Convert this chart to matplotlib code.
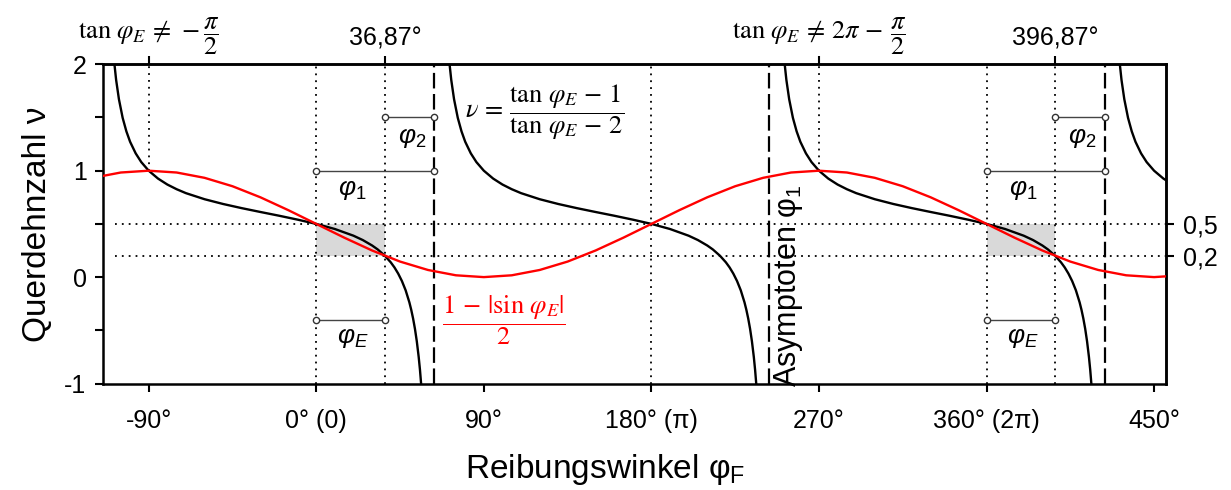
import numpy as np
import matplotlib.pyplot as plt
from matplotlib.patches import Rectangle

plt.rcParams['font.family'] = ['Liberation Sans', 'DejaVu Sans']
plt.rcParams['mathtext.fontset'] = 'custom'
plt.rcParams['mathtext.rm'] = 'Liberation Sans'
plt.rcParams['mathtext.it'] = 'Liberation Sans:italic'
plt.rcParams['mathtext.sf'] = 'Liberation Sans'
plt.rcParams['axes.unicode_minus'] = False

# schwarze Kurve nu = (tan phi - 1)/(tan phi - 2), ein Ast, wiederholt sich alle 180 Grad
ast_phi = [-108.4, -107.5, -106, -104, -102, -100, -97, -94, -90, -85, -80, -75, -70,
           -60, -50, -40, -30, -20, -10, 0, 10, 20, 25, 30, 33, 36.87, 40, 42, 44, 46,
           48, 50, 51, 52, 53, 54, 55, 55.7, 56.3]
ast_nu = [2.0, 1.853, 1.672, 1.497, 1.370, 1.272, 1.163, 1.081, 1.0, 0.926, 0.870, 0.826,
          0.789, 0.732, 0.687, 0.648, 0.612, 0.577, 0.540, 0.5, 0.452, 0.389, 0.348,
          0.297, 0.260, 0.2, 0.139, 0.091, 0.033, -0.037, -0.124, -0.237, -0.307, -0.389,
          -0.486, -0.604, -0.749, -0.872, -1.0]
ast_versatz = [0, 180, 360, 540]

# rote Kurve
rot_phi = list(range(-120, 466, 15))
rot_nu = [0.933, 0.983, 1.0, 0.983, 0.933, 0.854, 0.75, 0.629, 0.5, 0.371, 0.25, 0.146,
          0.067, 0.017, 0.0, 0.017, 0.067, 0.146, 0.25, 0.371, 0.5, 0.629, 0.75, 0.854,
          0.933, 0.983, 1.0, 0.983, 0.933, 0.854, 0.75, 0.629, 0.5, 0.371, 0.25, 0.146,
          0.067, 0.017, 0.0, 0.017]

asymptoten = [63.43, 243.43, 423.43]
phi_E = 36.87
xticks = [-90, 0, 90, 180, 270, 360, 450]
xlabels = ['-90°', '0° (0)', '90°', '180° (π)', '270°', '360° (2π)', '450°']

fs = 18
fm = 19     # Formeln
fl = 24     # Achsentitel
fig = plt.figure(figsize=(12.31, 4.9), dpi=100)
ax = fig.add_axes([0.0839, 0.2173, 0.8633, 0.6515])
ax.set_xlim(-114.4, 456.4)
ax.set_ylim(-1, 2)

# graue Flaechen
for p in [0, 360]:
    ax.add_patch(Rectangle((p, 0.2), phi_E, 0.3, facecolor='#d9d9d9', edgecolor='none', zorder=0))

# gepunktete Hilfslinien
dot = dict(color='black', lw=1.3, linestyle=(0, (1, 2.8)), zorder=1)
for y in [0.5, 0.2]:
    ax.plot([-108, 456.4], [y, y], **dot)
ax.plot([-90, -90], [1.0, 2], **dot)
ax.plot([270, 270], [1.0, 2], **dot)
for x in [0, phi_E, 180, 360, 360 + phi_E]:
    ax.plot([x, x], [-1, 2], **dot)

# Asymptoten
for x in asymptoten:
    ax.plot([x, x], [-1, 2], color='black', lw=1.6, linestyle=(0, (7, 2.5)), zorder=2)

# Kurven
for v in ast_versatz:
    ax.plot(np.array(ast_phi) + v, ast_nu, color='black', lw=1.7, zorder=3)
ax.plot(rot_phi, rot_nu, color='red', lw=1.7, zorder=4)

# Winkelmarken
mk = dict(color='#444444', lw=1.0, marker='o', ms=4.5, mfc='white', mec='#333333', mew=1.0, zorder=5)
for p in [0, 360]:
    ax.plot([p + phi_E, p + 63.43], [1.5, 1.5], **mk)
    ax.plot([p, p + 63.43], [1.0, 1.0], **mk)
    ax.plot([p, p + phi_E], [-0.4, -0.4], **mk)
    ax.text(p + 51.6, 1.31, r'$\varphi_2$', fontsize=fs + 1, ha='center', va='center')
    ax.text(p + 19.5, 0.82, r'$\varphi_1$', fontsize=fs + 1, ha='center', va='center')
    ax.text(p + 19.5, -0.57, r'$\varphi_E$', fontsize=fs + 1, ha='center', va='center')

# Formeln
ax.text(80, 1.55, r'$\nu\,=\,\dfrac{\tan\,\varphi_E\,-\,1}{\tan\,\varphi_E\,-\,2}$', fontsize=fm,
        math_fontfamily='stix', ha='left', va='center')
ax.text(101, -0.41, r'$\dfrac{1\,-\,|\sin\,\varphi_E|}{2}$', fontsize=fm, color='red',
        math_fontfamily='stix', ha='center', va='center')
ax.text(244.6, -0.08, r'Asymptoten $\mathrm{\varphi_1}$', fontsize=22, rotation=90,
        ha='left', va='center')

# Beschriftung oben
xt = ax.get_xaxis_transform()
ax.text(-90, 1.0887, r'$\tan\,\varphi_E\,\neq\,-\dfrac{\pi}{2}$', transform=xt,
        fontsize=fm, math_fontfamily='stix', ha='center', va='center')
ax.text(270, 1.0887, r'$\tan\,\varphi_E\,\neq\,2\pi\,-\,\dfrac{\pi}{2}$', transform=xt,
        fontsize=fm, math_fontfamily='stix', ha='center', va='center')
ax.text(phi_E, 1.08, '36,87°', transform=xt, fontsize=fs, ha='center', va='center')
ax.text(360 + phi_E, 1.08, '396,87°', transform=xt, fontsize=fs, ha='center', va='center')

# Achsen
ax.set_xticks(xticks)
ax.set_xticklabels(xlabels)
ax.set_yticks([-1, 0, 1, 2])
ax.set_yticklabels(['-1', '0', '1', '2'])
ax.set_yticks([-0.5, 0.5, 1.5], minor=True)
ax.tick_params(axis='both', which='both', direction='out', length=6, width=1.5, labelsize=fs)
ax.tick_params(axis='x', pad=12)
ax.tick_params(axis='y', pad=6)
for s in ax.spines.values():
    s.set_linewidth(1.8)

top = ax.secondary_xaxis('top')
top.set_xticks([-90, phi_E, 270, 360 + phi_E])
top.set_xticklabels([])
top.tick_params(direction='out', length=6, width=1.5)
top.spines['top'].set_linewidth(1.8)

right = ax.secondary_yaxis('right')
right.set_yticks([0.5, 0.2])
right.set_yticklabels(['0,5', '0,2'])
right.tick_params(direction='out', length=6, width=1.5, labelsize=fs, pad=6)
right.spines['right'].set_linewidth(1.8)

ax.set_ylabel('Querdehnzahl ν', fontsize=fl, labelpad=8)
ax.set_xlabel(r'Reibungswinkel $\mathrm{\varphi_F}$', fontsize=fl)
ax.xaxis.set_label_coords(0.472, -0.215)

fig.savefig('out.png', dpi=100)
